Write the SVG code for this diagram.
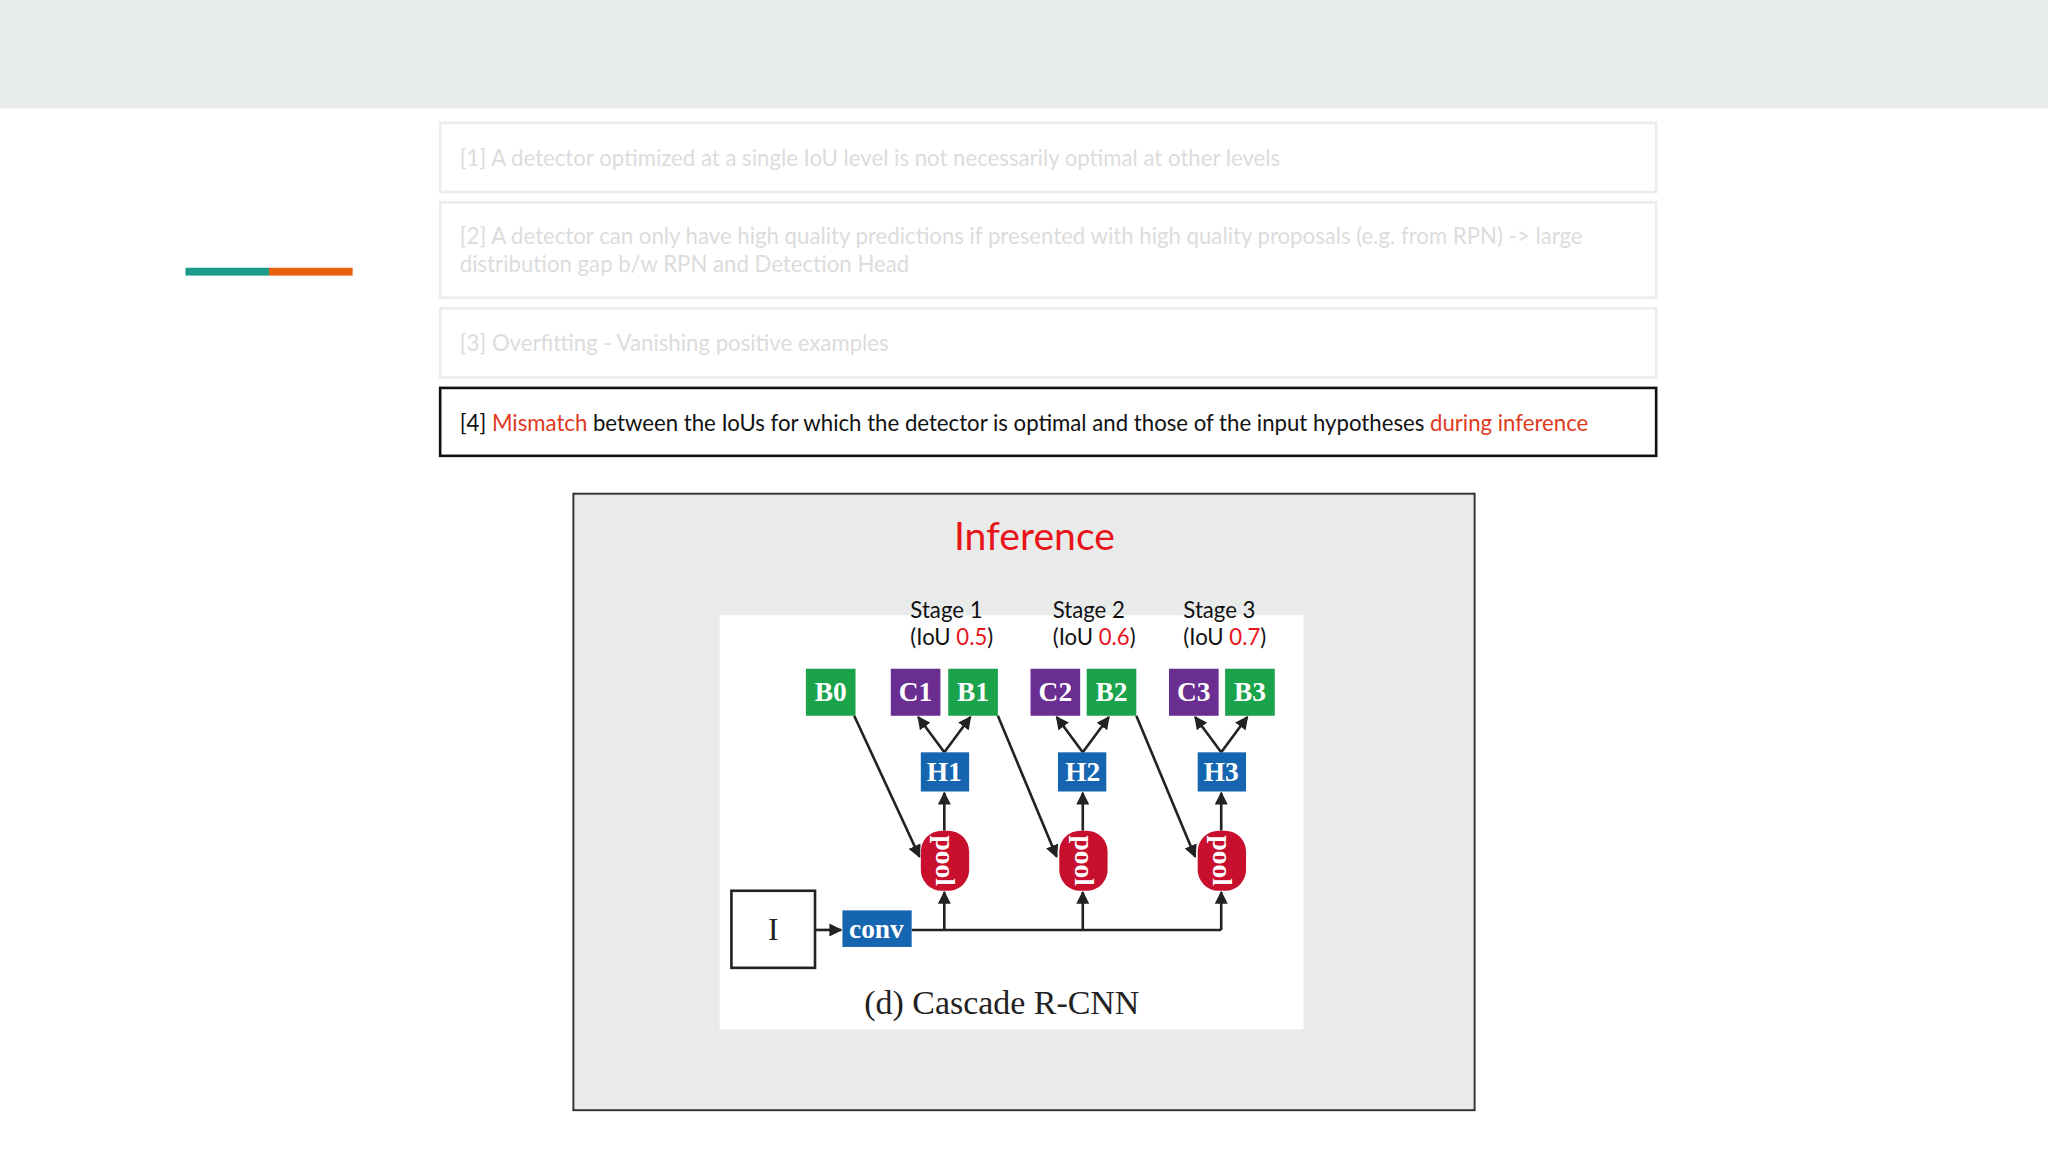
<svg xmlns="http://www.w3.org/2000/svg" width="2048" height="1152" viewBox="0 0 2048 1152">
<defs>
<style>
.t{font-family:Lato,"Liberation Sans",sans-serif;font-size:17px}
.g{fill:#dcdcdc}
.r{fill:#e03a1e}
.box{fill:#fff;stroke:#ececec;stroke-width:2}
.lbl{font-family:"Liberation Serif",serif;font-size:21px;fill:#fff;text-anchor:middle;font-weight:bold}
.ln{stroke:#222;stroke-width:2;fill:none;marker-end:url(#a)}
.st{font-family:Lato,"Liberation Sans",sans-serif;font-size:17px;fill:#111}
.red{fill:#e8141a}
</style>
<marker id="a" viewBox="0 0 10 10" refX="9" refY="5" markerWidth="5" markerHeight="5" orient="auto"><path d="M0,0L10,5L0,10z" fill="#222"/></marker>
</defs>
<rect width="2048" height="1152" fill="#fff"/>
<g transform="scale(1.30612)">
<rect x="0" y="0" width="1568" height="83" fill="#e8ecea"/>
<rect x="142" y="205" width="64" height="6" fill="#1a9a88"/>
<rect x="206" y="205" width="64" height="6" fill="#e8600c"/>
<g id="item1"><rect class="box" x="337" y="94" width="931" height="53"/><text class="t g" x="352" y="127">[1] A detector optimized at a single IoU level is not necessarily optimal at other levels</text></g>
<g id="item2"><rect class="box" x="337" y="155" width="931" height="73"/><text class="t g" x="352" y="187">[2] A detector can only have high quality predictions if presented with high quality proposals (e.g. from RPN) -&gt; large</text><text class="t g" x="352" y="208">distribution gap b/w RPN and Detection Head</text></g>
<g id="item3"><rect class="box" x="337" y="236" width="931" height="53"/><text class="t g" x="352" y="269">[3] Overfitting - Vanishing positive examples</text></g>
<g id="item4"><rect x="337" y="297" width="931" height="52" fill="#fff" stroke="#111" stroke-width="2"/><text class="t" x="352" y="330" fill="#111">[4] <tspan class="r">Mismatch</tspan> between the IoUs for which the detector is optimal and those of the input hypotheses <tspan class="r">during inference</tspan></text></g>
<g id="panel"><rect x="439" y="378" width="690" height="472" fill="#e9ebeb" stroke="#333" stroke-width="1.5"/>
<text x="792" y="421" text-anchor="middle" font-family="Lato,'Liberation Sans',sans-serif" font-size="30" fill="#e8141a">Inference</text>
<rect x="551" y="471" width="447" height="317" fill="#fff"/></g>
<g id="stages">
<text class="st" x="697" y="473">Stage 1</text><text class="st" x="697" y="494">(IoU <tspan class="red">0.5</tspan>)</text>
<text class="st" x="806" y="473">Stage 2</text><text class="st" x="806" y="494">(IoU <tspan class="red">0.6</tspan>)</text>
<text class="st" x="906" y="473">Stage 3</text><text class="st" x="906" y="494">(IoU <tspan class="red">0.7</tspan>)</text>
</g>
<g id="connectors">
<path class="ln" d="M624,712H644"/>
<path d="M698,712H935" stroke="#222" stroke-width="2"/>
<path class="ln" d="M723,712V683"/><path class="ln" d="M829,712V683"/><path class="ln" d="M935,712V683"/>
<path class="ln" d="M723,636V607"/><path class="ln" d="M829,636V607"/><path class="ln" d="M935,636V607"/>
<path class="ln" d="M723,576L703,549"/><path class="ln" d="M723,576L743,549"/>
<path class="ln" d="M829,576L809,549"/><path class="ln" d="M829,576L849,549"/>
<path class="ln" d="M935,576L915,549"/><path class="ln" d="M935,576L955,549"/>
<path class="ln" d="M654,548L704,656"/><path class="ln" d="M764,548L809,656"/><path class="ln" d="M870,548L915,656"/>
</g>
<g id="B0"><rect x="617" y="512" width="38" height="36" fill="#1aa34a"/><text class="lbl" x="636" y="537">B0</text></g>
<g id="C1"><rect x="682" y="512" width="38" height="36" fill="#6a2d91"/><text class="lbl" x="701" y="537">C1</text></g>
<g id="B1"><rect x="726" y="512" width="38" height="36" fill="#1aa34a"/><text class="lbl" x="745" y="537">B1</text></g>
<g id="C2"><rect x="789" y="512" width="38" height="36" fill="#6a2d91"/><text class="lbl" x="808" y="537">C2</text></g>
<g id="B2"><rect x="832" y="512" width="38" height="36" fill="#1aa34a"/><text class="lbl" x="851" y="537">B2</text></g>
<g id="C3"><rect x="895" y="512" width="38" height="36" fill="#6a2d91"/><text class="lbl" x="914" y="537">C3</text></g>
<g id="B3"><rect x="938" y="512" width="38" height="36" fill="#1aa34a"/><text class="lbl" x="957" y="537">B3</text></g>
<g id="H1"><rect x="705" y="576" width="37" height="30" fill="#1565b0"/><text class="lbl" x="723" y="598" font-size="18">H1</text></g>
<g id="H2"><rect x="810" y="576" width="37" height="30" fill="#1565b0"/><text class="lbl" x="829" y="598" font-size="18">H2</text></g>
<g id="H3"><rect x="917" y="576" width="37" height="30" fill="#1565b0"/><text class="lbl" x="935" y="598" font-size="18">H3</text></g>
<g id="pool1"><rect x="705" y="636" width="37" height="46" rx="16" fill="#c8102e"/><text class="lbl" font-size="17" transform="translate(717,659) rotate(90)">pool</text></g>
<g id="pool2"><rect x="811" y="636" width="37" height="46" rx="16" fill="#c8102e"/><text class="lbl" font-size="17" transform="translate(823,659) rotate(90)">pool</text></g>
<g id="pool3"><rect x="917" y="636" width="37" height="46" rx="16" fill="#c8102e"/><text class="lbl" font-size="17" transform="translate(929,659) rotate(90)">pool</text></g>
<g id="I"><rect x="560" y="682" width="64" height="59" fill="#fff" stroke="#222" stroke-width="2"/><text x="592" y="720" text-anchor="middle" font-family="'Liberation Serif',serif" font-size="24" fill="#222">I</text></g>
<g id="conv"><rect x="645" y="697" width="53" height="28" fill="#1565b0"/><text class="lbl" x="671" y="718" font-size="18">conv</text></g>
<text x="767" y="776" text-anchor="middle" font-family="'Liberation Serif',serif" font-size="26" fill="#222">(d) Cascade R-CNN</text>
</g>
</svg>
